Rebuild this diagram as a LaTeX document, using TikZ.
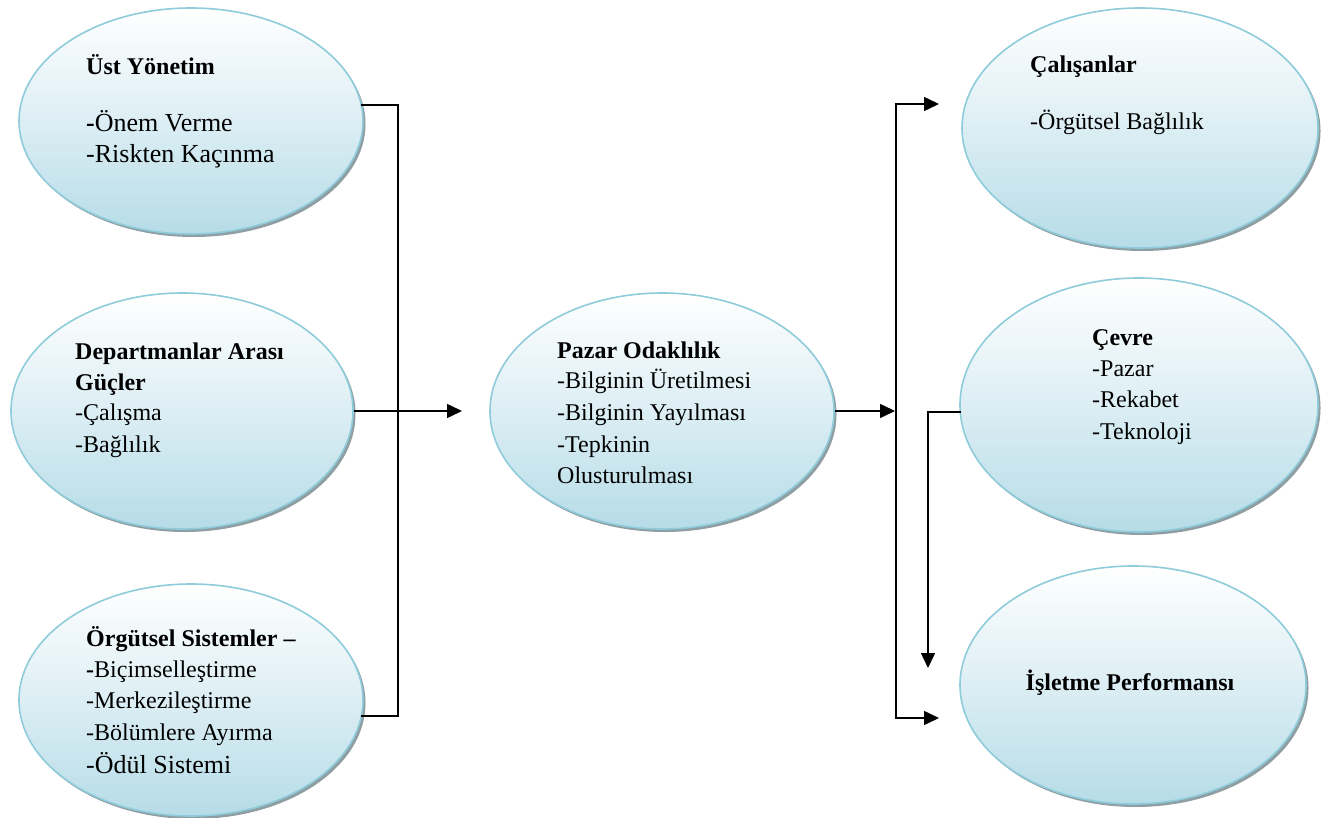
\documentclass[tikz,border=0pt]{standalone}
\usepackage{fontspec}
\setmainfont{Liberation Serif}
\usetikzlibrary{shapes.geometric,arrows.meta}
\definecolor{ebord}{HTML}{8FCCDB}
\definecolor{ebot}{HTML}{B6DCE7}
\definecolor{emid}{HTML}{DCEEF4}
\definecolor{eshad}{HTML}{8E9EA2}
\tikzset{
  oval/.style={ellipse, draw=ebord, line width=1.6pt, top color=white, bottom color=ebot, middle color=emid, inner sep=0pt},
  ovshadow/.style={ellipse, fill=eshad, draw=none, inner sep=0pt},
  conn/.style={line width=1.5pt, black},
  arr/.style={conn, -{Triangle[length=15pt,width=14pt]}},
  txt/.style={anchor=base west, inner sep=0pt, font=\fontsize{24}{29}\selectfont},
  txtl/.style={anchor=base west, inner sep=0pt, font=\fontsize{26}{31}\selectfont},
  ttl/.style={anchor=base west, inner sep=0pt, font=\fontsize{24}{29}\selectfont\bfseries},
}
\newcommand\ovalat[5]{%
  \node[ovshadow, minimum width=#4pt, minimum height=#5pt, xshift=2.5pt, yshift=-3pt] (#1s) at (#2,#3) {};
  \node[oval, minimum width=#4pt, minimum height=#5pt] (#1) at (#2,#3) {};}
\begin{document}
\begin{tikzpicture}[x=1pt,y=-1pt]
\useasboundingbox (0,0) rectangle (1327,818);
\fill[white] (0,0) rectangle (1327,818);

% ovals
\ovalat{ust}{191}{121}{344}{226}
\ovalat{dep}{182}{411}{342}{236}
\ovalat{org}{191}{700}{344}{232}
\ovalat{paz}{662}{411}{344}{236}
\ovalat{cal}{1140}{128}{356}{240}
\ovalat{cev}{1139}{405}{358}{254}
\ovalat{isl}{1133}{685}{346}{238}

% coordinates
\coordinate (ustOut) at (361,105);
\coordinate (orgOut) at (361,716);
\coordinate (jLt) at (398,105);
\coordinate (jLb) at (398,716);
\coordinate (pazIn) at (462,411);
\coordinate (jR) at (896,411);
\coordinate (calIn) at (939,104);
\coordinate (islIn) at (939,718);
\coordinate (cevOut) at (961,412);
\coordinate (islTop) at (928,668);

% connectors
\draw[conn] (ustOut) -- (jLt) -- (jLb) -- (orgOut);
\draw[arr] (dep.east) -- (pazIn);
\draw[arr, shorten >=1pt] (paz.east) -- (jR);
\draw[arr] (jR) |- (calIn);
\draw[arr] (jR) |- (islIn);
\draw[arr] (cevOut) -| (islTop);

% texts
\node[ttl] (ust1) at (86,75) {Üst Yönetim};
\node[txtl] (ust2) at (86,132) {\textbf{-}Önem Verme};
\node[txtl] (ust3) at (86,163) {-Riskten Kaçınma};

\node[ttl] (dep1) at (75,359) {Departmanlar Arası};
\node[ttl] (dep2) at (75,390) {Güçler};
\node[txt] (dep3) at (75,420) {-Çalışma};
\node[txt] (dep4) at (75,452) {-Bağlılık};

\node[ttl] (org1) at (86,646) {Örgütsel Sistemler –};
\node[txt] (org2) at (86,677) {\textbf{-}Biçimselleştirme};
\node[txt] (org3) at (86,708) {-Merkezileştirme};
\node[txt] (org4) at (86,740) {-Bölümlere Ayırma};
\node[txtl] (org5) at (86,773) {-Ödül Sistemi};

\node[ttl] (paz1) at (557,358) {Pazar Odaklılık};
\node[txt] (paz2) at (557,388) {-Bilginin Üretilmesi};
\node[txt] (paz3) at (557,420) {-Bilginin Yayılması};
\node[txt] (paz4) at (557,452) {-Tepkinin};
\node[txt] (paz5) at (557,483) {Olusturulması};

\node[ttl] (cal1) at (1030,73) {Çalışanlar};
\node[txt] (cal2) at (1030,130) {-Örgütsel Bağlılık};

\node[ttl] (cev1) at (1092,345) {Çevre};
\node[txt] (cev2) at (1092,376) {-Pazar};
\node[txt] (cev3) at (1092,407) {-Rekabet};
\node[txt] (cev4) at (1092,439) {-Teknoloji};

\node[ttl, anchor=base] (isl1) at (1130,690) {İşletme Performansı};
\end{tikzpicture}
\end{document}
